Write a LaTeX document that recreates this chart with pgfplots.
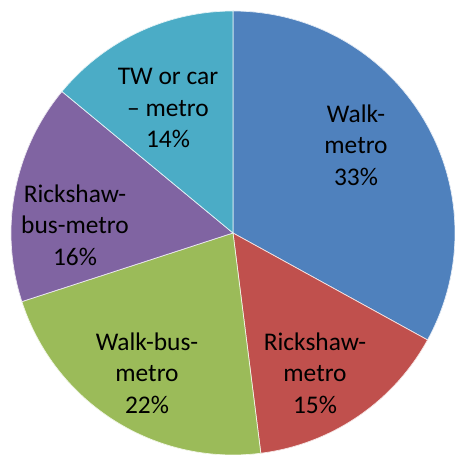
\documentclass[border=0pt]{standalone}
\usepackage{pgfplots}
\pgfplotsset{compat=1.18}
\usepackage{pgfplotstable}
\usepackage{fontspec}
\setmainfont{Carlito}

\definecolor{slice0}{HTML}{4F81BD}
\definecolor{slice1}{HTML}{C0504D}
\definecolor{slice2}{HTML}{9BBB59}
\definecolor{slice3}{HTML}{8064A2}
\definecolor{slice4}{HTML}{4BACC6}

% shares in percent, clockwise from 12 o'clock
\pgfplotstableread{
share
33
15
22
16
14
}\piedata

\tikzset{lbl/.style={align=center, text=black,
    font=\fontsize{25.5}{31.5}\selectfont}}

\begin{document}
\begin{tikzpicture}
\begin{axis}[
    hide axis,
    scale only axis,
    width=455bp, height=455bp,
    xmin=0, xmax=455, ymin=0, ymax=455,
    clip=false,
    at={(0,0)}, anchor=south west,
]
\def\startangle{90}
\pgfplotsforeachungrouped \i in {0,...,4}{%
    \pgfplotstablegetelem{\i}{share}\of\piedata
    \pgfmathsetmacro\endangle{\startangle - 3.6*\pgfplotsretval}%
    \edef\slice{\noexpand\fill[slice\i, draw=white!85!slice\i, line width=0.7bp]
        (axis cs:233,222) -- ++(\startangle:222bp)
        arc[start angle=\startangle, end angle=\endangle, radius=222bp] -- cycle;}%
    \slice
    \let\startangle\endangle
}
\node[lbl] at (axis cs:356,310) {Walk-\\metro\\33\%};
\node[lbl] at (axis cs:315,82) {Rickshaw-\\metro\\15\%};
\node[lbl] at (axis cs:147,82) {Walk-bus-\\metro\\22\%};
\node[lbl] at (axis cs:75,230) {Rickshaw-\\bus-metro\\16\%};
\node[lbl] at (axis cs:168,347) {TW or car\\– metro\\14\%};
\end{axis}
\pgfresetboundingbox
\path (0,0) rectangle (455bp,455bp);
\end{tikzpicture}
\end{document}
